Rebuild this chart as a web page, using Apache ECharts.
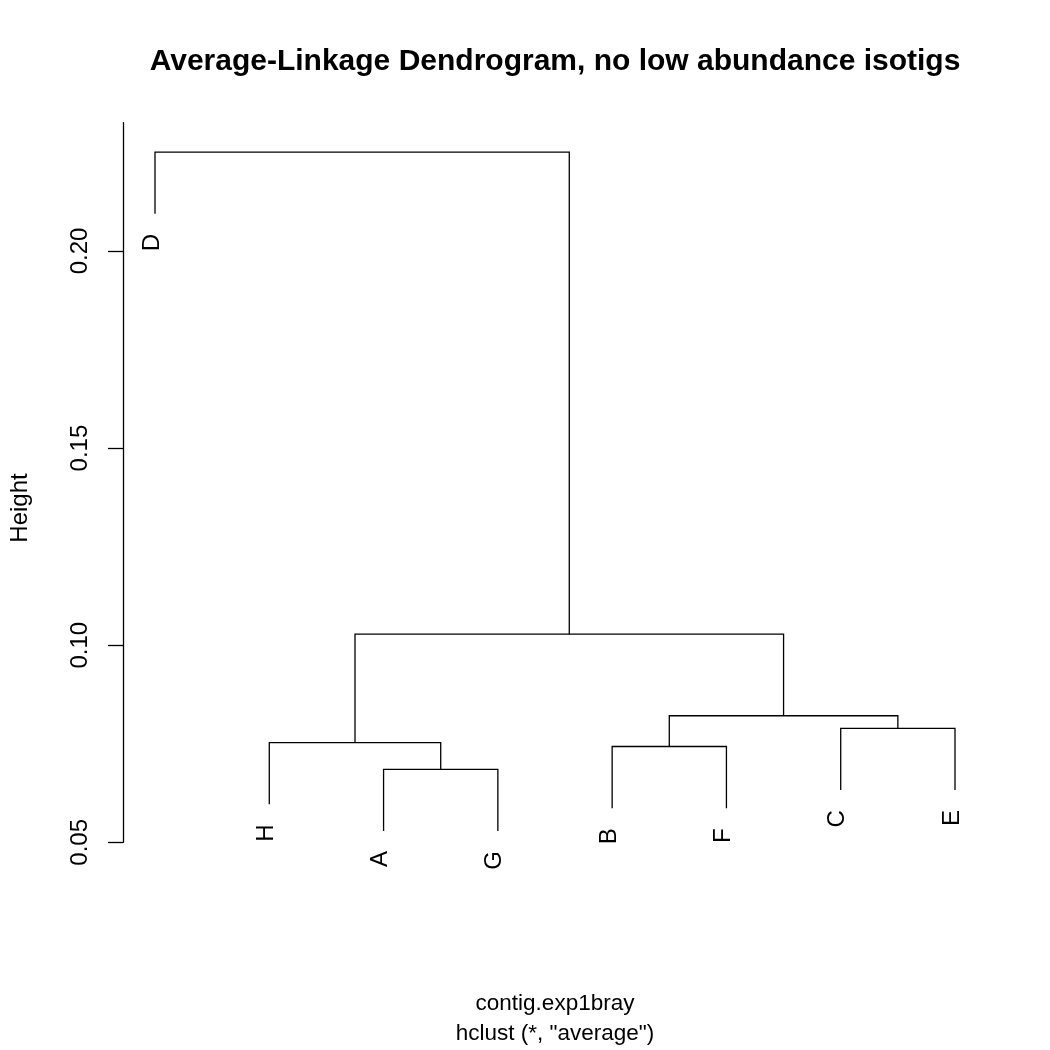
<!DOCTYPE html>
<html>
<head>
<meta charset="utf-8">
<script src="https://cdn.jsdelivr.net/npm/echarts@6/dist/echarts.min.js"></script>
<style>
html,body{margin:0;padding:0;background:#fff;}
#chart{width:1050px;height:1050px;}
</style>
</head>
<body>
<div id="chart"></div>
<script>
// ---- data ----
const leafOrder = ['D', 'H', 'A', 'G', 'B', 'F', 'C', 'E'];
// merges in hclust order; children are leaf names or 1-based merge indexes
const mergeLeft  = ['A', 'B', 'H', 'C', 2, 3, 'D'];
const mergeRight = ['G', 'F', 1, 'E', 4, 5, 6];
const mergeHeight = [0.0685, 0.0743, 0.0753, 0.0789, 0.0821, 0.1028, 0.2251];
const yTicks = [0.05, 0.10, 0.15, 0.20];
const titleText = 'Average-Linkage Dendrogram, no low abundance isotigs';
const xLabel = 'contig.exp1bray';
const subLabel = 'hclust (*, "average")';
const yLabel = 'Height';

// hang as in plot.hclust (hang = 0.1 of the height range)
const hang = 0.1 * (Math.max(...mergeHeight) - Math.min(...mergeHeight));

// ---- build dendrogram segments ----
const mergeX = [];
function nodeX(c) {
  return typeof c === 'string' ? leafOrder.indexOf(c) + 1 : mergeX[c - 1];
}
const segs = [];
const leaves = [];
for (let i = 0; i < mergeHeight.length; i++) {
  const h = mergeHeight[i];
  const l = mergeLeft[i], r = mergeRight[i];
  const xl = nodeX(l), xr = nodeX(r);
  mergeX.push((xl + xr) / 2);
  const yl = typeof l === 'string' ? h - hang : mergeHeight[l - 1];
  const yr = typeof r === 'string' ? h - hang : mergeHeight[r - 1];
  segs.push([xl, xr, h, yl, yr]);
  if (typeof l === 'string') leaves.push([xl, h - hang, l]);
  if (typeof r === 'string') leaves.push([xr, h - hang, r]);
}

const FONT = '"Liberation Sans", Arial, Helvetica, sans-serif';
const chart = echarts.init(document.getElementById('chart'), null, {renderer: 'canvas'});
chart.setOption({
  backgroundColor: '#ffffff',
  animation: false,
  grid: {left: 123, right: 63, top: 122.7, bottom: 207.7, containLabel: false},
  xAxis: {type: 'value', min: 0.72, max: 8.28, show: false},
  yAxis: {
    type: 'value', min: 0.05, max: 0.23255,
    splitLine: {show: false},
    axisLine: {show: true, lineStyle: {color: '#000', width: 1.3}},
    axisTick: {show: true, inside: false, length: 15, customValues: yTicks, lineStyle: {color: '#000', width: 1.3}},
    axisLabel: {
      show: true, customValues: yTicks, rotate: 90, margin: 31,
      formatter: v => v.toFixed(2),
      fontSize: 24, color: '#000', fontFamily: FONT
    }
  },
  graphic: [
    {type: 'text', x: 555, y: 62, style: {text: titleText, font: 'bold 30px ' + FONT, fill: '#000', textAlign: 'center', textVerticalAlign: 'middle'}},
    {type: 'text', x: 555, y: 1004, style: {text: xLabel, font: '22.5px ' + FONT, fill: '#000', textAlign: 'center', textVerticalAlign: 'middle'}},
    {type: 'text', x: 555, y: 1034, style: {text: subLabel, font: '22.5px ' + FONT, fill: '#000', textAlign: 'center', textVerticalAlign: 'middle'}},
    {type: 'text', x: 20, y: 508, rotation: Math.PI / 2, style: {text: yLabel, font: '24px ' + FONT, fill: '#000', textAlign: 'center', textVerticalAlign: 'middle'}}
  ],
  series: [
    {
      type: 'custom',
      clip: false,
      data: segs,
      renderItem: function (params, api) {
        const xl = api.value(0), xr = api.value(1), h = api.value(2), yl = api.value(3), yr = api.value(4);
        const pts = [api.coord([xl, yl]), api.coord([xl, h]), api.coord([xr, h]), api.coord([xr, yr])];
        return {type: 'polyline', shape: {points: pts}, style: {stroke: '#000', lineWidth: 1.3, fill: null}};
      }
    },
    {
      type: 'custom',
      clip: false,
      data: leaves,
      renderItem: function (params, api) {
        const p = api.coord([api.value(0), api.value(1)]);
        return {
          type: 'text', x: p[0] - 3, y: p[1] + 20, rotation: Math.PI / 2,
          style: {text: leaves[params.dataIndex][2], font: '24px ' + FONT, fill: '#000', textAlign: 'right', textVerticalAlign: 'middle'}
        };
      }
    }
  ]
});
</script>
</body>
</html>
